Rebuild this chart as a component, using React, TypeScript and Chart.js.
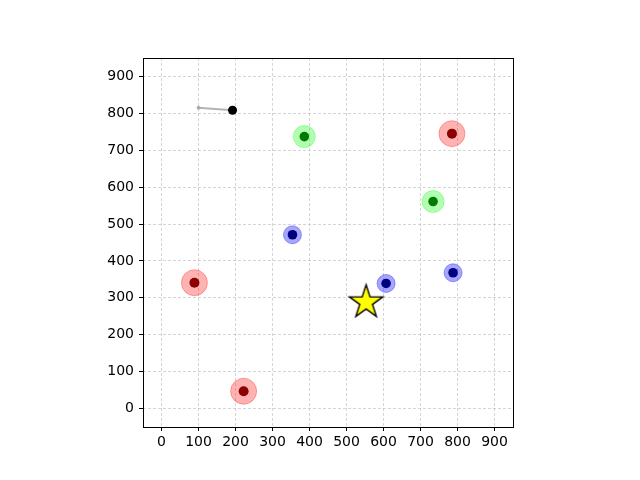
import React, { useEffect, useRef } from "react";
import { Chart, registerables } from "chart.js";

Chart.register(...registerables);

const tickValues = [0, 100, 200, 300, 400, 500, 600, 700, 800, 900];

const redX = [785, 89, 222];
const redY = [745, 341, 47];
const greenX = [386, 734];
const greenY = [737, 561];
const blueX = [354, 607, 788];
const blueY = [471, 339, 368];
const trailX = [100, 192];
const trailY = [815, 808.5];
const starX = [553];
const starY = [288];

function pts(xs: number[], ys: number[]) {
  return xs.map((x, i) => ({ x, y: ys[i] }));
}

function makeStar(R: number): HTMLCanvasElement {
  const c = document.createElement("canvas");
  const size = Math.ceil(2 * R + 6);
  c.width = size;
  c.height = size;
  const ctx = c.getContext("2d")!;
  const cx = size / 2;
  const cy = size / 2;
  const r = R * 0.381966;
  ctx.beginPath();
  for (let i = 0; i < 10; i++) {
    const rad = i % 2 === 0 ? R : r;
    const a = -Math.PI / 2 + (i * Math.PI) / 5;
    const px = cx + rad * Math.cos(a);
    const py = cy + rad * Math.sin(a);
    if (i === 0) ctx.moveTo(px, py);
    else ctx.lineTo(px, py);
  }
  ctx.closePath();
  ctx.fillStyle = "#ffff00";
  ctx.fill();
  ctx.lineWidth = 1.4;
  ctx.strokeStyle = "#000000";
  ctx.lineJoin = "miter";
  ctx.stroke();
  return c;
}

const boxPlugin = {
  id: "boxPlugin",
  afterDraw(chart: any) {
    const { ctx, chartArea } = chart;
    ctx.save();
    ctx.strokeStyle = "#000000";
    ctx.lineWidth = 1;
    ctx.strokeRect(
      Math.round(chartArea.left) + 0.5,
      Math.round(chartArea.top) + 0.5,
      Math.round(chartArea.right) - Math.round(chartArea.left),
      Math.round(chartArea.bottom) - Math.round(chartArea.top)
    );
    ctx.restore();
  },
};

export default function App() {
  const ref = useRef<HTMLCanvasElement>(null);
  useEffect(() => {
    if (!ref.current) return;
    const star = makeStar(17.5);
    const axisCommon = (isX: boolean) => ({
      type: "linear" as const,
      min: -50,
      max: 950,
      afterBuildTicks: (scale: any) => {
        scale.ticks = tickValues.map((v) => ({ value: v }));
      },
      afterFit: (scale: any) => {
        if (isX) scale.height = 53;
        else scale.width = 143;
      },
      grid: {
        color: "rgba(176,176,176,0.9)",
        lineWidth: 0.6,
        drawTicks: true,
        tickLength: 4,
        tickColor: "#000000",
        tickWidth: 1,
        tickBorderDash: [],
      },
      border: { display: false, color: "#000000", width: 1, dash: [3, 2] },
      ticks: {
        color: "#000000",
        font: { family: "DejaVu Sans", size: 14 },
        padding: isX ? 3 : 5,
        callback: (v: any) => String(v),
      },
    });
    const chart = new Chart(ref.current, {
      type: "scatter",
      data: {
        datasets: [
          {
            data: pts(starX, starY),
            pointStyle: star as any,
            pointRadius: 18,
            showLine: false,
          },
          {
            data: pts([trailX[1]], [trailY[1]]),
            backgroundColor: "#000000",
            borderColor: "#000000",
            pointRadius: 4.5,
            borderWidth: 0,
          },
          {
            data: pts(trailX, trailY),
            showLine: true,
            borderColor: "rgba(160,160,160,0.8)",
            borderWidth: 2,
            backgroundColor: "rgba(160,160,160,0.8)",
            pointRadius: [2, 0] as any,
            pointBorderWidth: 0,
          },
          {
            data: pts(redX, redY),
            backgroundColor: "#8b0000",
            pointRadius: 5,
            borderWidth: 0,
          },
          {
            data: pts(greenX, greenY),
            backgroundColor: "#007a00",
            pointRadius: 4.8,
            borderWidth: 0,
          },
          {
            data: pts(blueX, blueY),
            backgroundColor: "#000080",
            pointRadius: 4.8,
            borderWidth: 0,
          },
          {
            data: pts(redX, redY),
            backgroundColor: "rgba(255,0,0,0.3)",
            borderColor: "rgba(255,0,0,0.3)",
            borderWidth: 1,
            pointRadius: 13,
          },
          {
            data: pts(greenX, greenY),
            backgroundColor: "rgba(0,255,0,0.3)",
            borderColor: "rgba(0,255,0,0.3)",
            borderWidth: 1,
            pointRadius: 11,
          },
          {
            data: pts(blueX, blueY),
            backgroundColor: "rgba(0,0,255,0.35)",
            borderColor: "rgba(0,0,255,0.35)",
            borderWidth: 1,
            pointRadius: 9,
          },
        ],
      },
      options: {
        responsive: false,
        animation: false,
        layout: { padding: { left: 0, top: 58, right: 127, bottom: 0 } },
        plugins: { legend: { display: false }, tooltip: { enabled: false } },
        scales: {
          x: axisCommon(true) as any,
          y: axisCommon(false) as any,
        },
      },
      plugins: [boxPlugin],
    });
    return () => chart.destroy();
  }, []);
  return (
    <div style={{ position: "absolute", left: 0, top: 0, width: 640, height: 480, background: "#fff" }}>
      <canvas ref={ref} width={640} height={480} />
    </div>
  );
}
